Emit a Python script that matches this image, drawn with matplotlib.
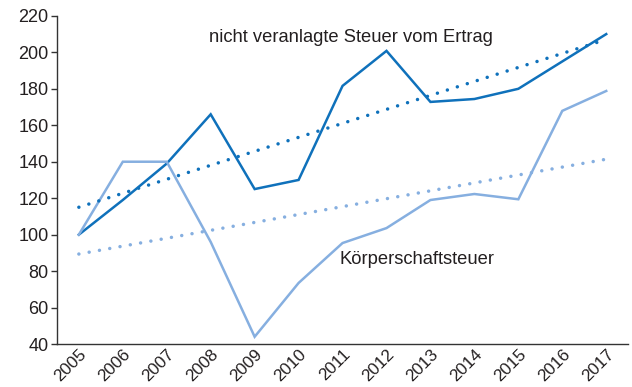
import numpy as np
import matplotlib
matplotlib.use("Agg")
import matplotlib.pyplot as plt

plt.rcParams['font.family'] = ['Liberation Sans', 'DejaVu Sans']

# Jahre und Werte (Index)
jahre = np.arange(2005, 2018)
steuer_ertrag = [100, 119, 139, 166, 125, 130, 181.6, 200.8, 172.8, 174.4, 180, 195, 210]
koerperschaft = [100, 140, 140, 96, 44, 73.5, 95.4, 103.6, 119, 122.3, 119.4, 167.9, 178.8]

dunkel = '#0f71bb'
hell = '#86afe0'
text_col = '#231f20'

fig = plt.figure(figsize=(6.32, 3.87), dpi=100)
ax = fig.add_axes([0.090, 0.111, 0.904, 0.848])

ax.plot(jahre, steuer_ertrag, color=dunkel, lw=1.8, solid_joinstyle='miter')
ax.plot(jahre, koerperschaft, color=hell, lw=1.8, solid_joinstyle='miter')

# lineare Trends, gepunktet
for werte, farbe in [(steuer_ertrag, dunkel), (koerperschaft, hell)]:
    m, b = np.polyfit(jahre, werte, 1)
    ax.plot(jahre, m * jahre + b, color=farbe, lw=2.5,
            linestyle=(0, (0.01, 3.0)), dash_capstyle='round')

ax.text(2007.96, 208, "nicht veranlagte Steuer vom Ertrag", fontsize=13.2,
        color=text_col, va='center', ha='left')
ax.text(2010.92, 86.6, "Körperschaftsteuer", fontsize=13.2,
        color=text_col, va='center', ha='left')

ax.set_xlim(2004.5, 2017.5)
ax.set_ylim(40, 220)
ax.set_yticks(np.arange(40, 221, 20))
ax.set_xticks(jahre)
ax.set_xticklabels([str(j) for j in jahre], rotation=45, ha='right',
                   rotation_mode='anchor', fontsize=12.3, color=text_col)
ax.tick_params(axis='y', labelsize=13, labelcolor=text_col, length=4,
               width=1, color='#333333', pad=2)
ax.tick_params(axis='x', length=0, pad=2)

for s in ['top', 'right']:
    ax.spines[s].set_visible(False)
for s in ['left', 'bottom']:
    ax.spines[s].set_color('#333333')
    ax.spines[s].set_linewidth(1.0)

fig.savefig("out.png", dpi=100)
